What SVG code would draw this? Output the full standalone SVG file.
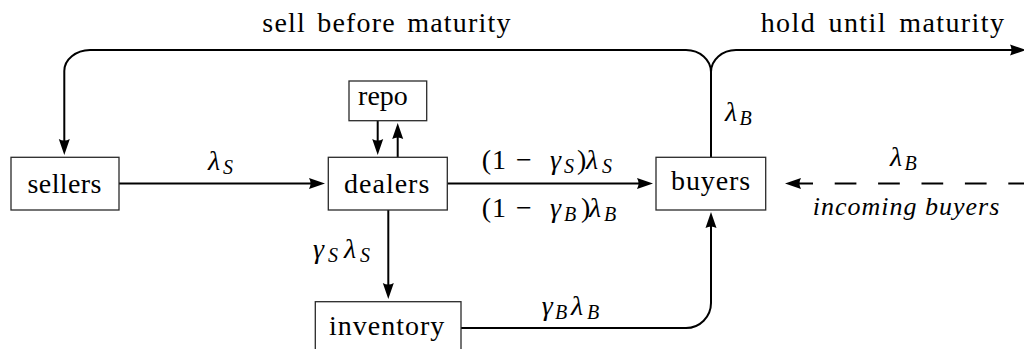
<svg xmlns="http://www.w3.org/2000/svg" width="1024" height="349" viewBox="0 0 1024 349">
<rect width="1024" height="349" fill="#fff"/>
<g id="connectors">
<g fill="none" stroke="#000" stroke-width="2">
<path d="M119,183.5 H316"/>
<path d="M447,183.5 H644"/>
<path d="M388.3,210 V290"/>
<path d="M377.7,121 V146"/>
<path d="M397.7,157 V132"/>
<path d="M461,328 H686 A25,25 0 0 0 711,303 V221"/>
<path d="M711,157 V72 A25,22 0 0 0 686,50 H90 A26,21 0 0 0 64.3,71 V146"/>
<path d="M711,80 V72 A25,22 0 0 1 736,50 H1017"/>
<path d="M1030,183.5 H794" stroke-dasharray="21.7 21.7"/>
</g>
<g fill="#000" stroke="none">
<path d="M325,183.5 L309,178 Q312,183.5 309,189 Z"/>
<path d="M653,183.5 L637,178 Q640,183.5 637,189 Z"/>
<path d="M1026,50 L1010,44.5 Q1013,50 1010,55.5 Z"/>
<path d="M785,183.5 L801,178 Q798,183.5 801,189 Z"/>
<path d="M388.3,299 L382.8,283 Q388.3,286 393.8,283 Z"/>
<path d="M377.7,155 L372.2,139 Q377.7,142 383.2,139 Z"/>
<path d="M64.3,155 L58.8,139 Q64.3,142 69.8,139 Z"/>
<path d="M397.7,123 L392.2,139 Q397.7,136 403.2,139 Z"/>
<path d="M711,212 L705.5,228 Q711,225 716.5,228 Z"/>
</g>
</g>
<g id="sellers"><rect x="11" y="157.3" width="108" height="52.7" fill="#fff" stroke="#2a2a2a" stroke-width="1.3"/></g>
<g id="dealers"><rect x="328.3" y="157.3" width="119" height="52.7" fill="#fff" stroke="#2a2a2a" stroke-width="1.3"/></g>
<g id="repo"><rect x="349" y="81" width="77.7" height="39.7" fill="#fff" stroke="#2a2a2a" stroke-width="1.3"/></g>
<g id="buyers"><rect x="656" y="157.3" width="109.7" height="52.7" fill="#fff" stroke="#2a2a2a" stroke-width="1.3"/></g>
<g id="inventory"><rect x="315.3" y="301.7" width="145.7" height="60" fill="#fff" stroke="#2a2a2a" stroke-width="1.3"/></g>
<text font-family="'Liberation Serif'" font-size="28" x="64.7" y="193" text-anchor="middle" letter-spacing="0.4">sellers</text>
<text font-family="'Liberation Serif'" font-size="28" x="387.2" y="193" text-anchor="middle" letter-spacing="1">dealers</text>
<text font-family="'Liberation Serif'" font-size="28" x="383" y="105" text-anchor="middle">repo</text>
<text font-family="'Liberation Serif'" font-size="28" x="711.1" y="190" text-anchor="middle" letter-spacing="0.9">buyers</text>
<text font-family="'Liberation Serif'" font-size="28" x="387.2" y="335" text-anchor="middle" letter-spacing="1">inventory</text>
<text font-family="'Liberation Serif'" font-size="28" x="387" y="32" text-anchor="middle" letter-spacing="1.2" word-spacing="3">sell before maturity</text>
<text font-family="'Liberation Serif'" font-size="28" x="883" y="32" text-anchor="middle" letter-spacing="1.4" word-spacing="4">hold until maturity</text>
<text font-family="'Liberation Serif'" font-size="28" y="170"><tspan x="208" font-style="italic">λ</tspan><tspan x="223" y="174" font-size="20" font-style="italic">S</tspan></text>
<text font-family="'Liberation Serif'" font-size="28" y="169"><tspan x="481.7">(</tspan><tspan x="492">1</tspan><tspan x="516">−</tspan><tspan x="550" font-style="italic">γ</tspan><tspan x="564" y="173" font-size="20" font-style="italic">S</tspan><tspan x="577" y="169">)</tspan><tspan x="586" font-style="italic">λ</tspan><tspan x="602" y="173" font-size="20" font-style="italic">S</tspan></text>
<text font-family="'Liberation Serif'" font-size="28" y="216.5"><tspan x="481.7">(</tspan><tspan x="492">1</tspan><tspan x="516">−</tspan><tspan x="550" font-style="italic">γ</tspan><tspan x="564" y="220.5" font-size="20" font-style="italic">B</tspan><tspan x="581" y="216.5">)</tspan><tspan x="589" font-style="italic">λ</tspan><tspan x="604" y="220.5" font-size="20" font-style="italic">B</tspan></text>
<text font-family="'Liberation Serif'" font-size="28" y="121"><tspan x="725" font-style="italic">λ</tspan><tspan x="739.5" y="125" font-size="20" font-style="italic">B</tspan></text>
<text font-family="'Liberation Serif'" font-size="28" y="166"><tspan x="890" font-style="italic">λ</tspan><tspan x="904.5" y="170" font-size="20" font-style="italic">B</tspan></text>
<text font-family="'Liberation Serif'" font-size="28" y="258"><tspan x="313" font-style="italic">γ</tspan><tspan x="328" y="262" font-size="20" font-style="italic">S</tspan><tspan x="344" y="258" font-style="italic">λ</tspan><tspan x="360" y="262" font-size="20" font-style="italic">S</tspan></text>
<text font-family="'Liberation Serif'" font-size="28" y="315"><tspan x="541.7" font-style="italic">γ</tspan><tspan x="555" y="319" font-size="20" font-style="italic">B</tspan><tspan x="571" y="315" font-style="italic">λ</tspan><tspan x="587" y="319" font-size="20" font-style="italic">B</tspan></text>
<text font-family="'Liberation Serif'" font-size="26" font-style="italic" x="906.5" y="215" text-anchor="middle" letter-spacing="1">incoming buyers</text>
</svg>
